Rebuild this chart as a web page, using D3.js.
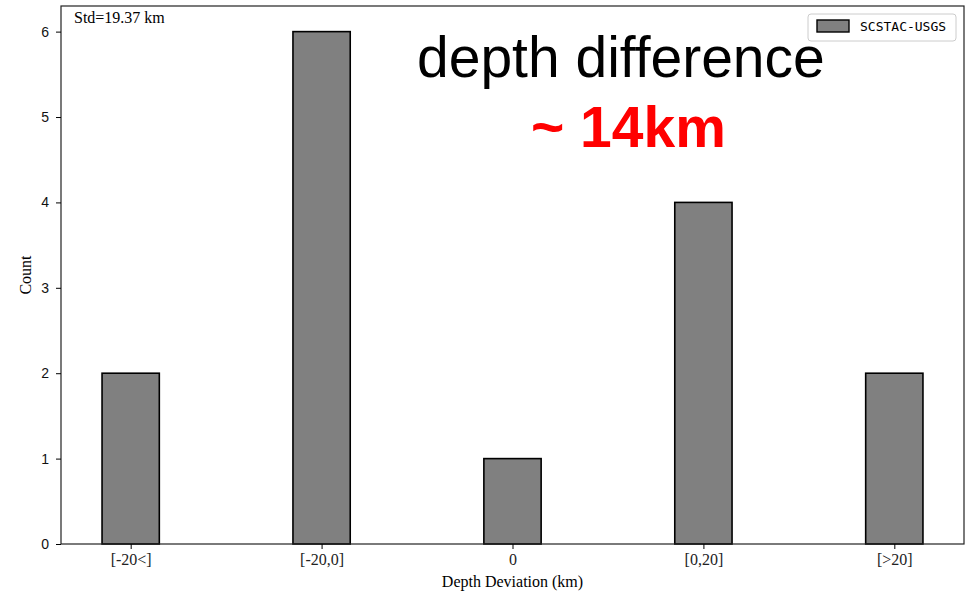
<!DOCTYPE html>
<meta charset="utf-8">
<style>
	body { margin: 0; background: #fff; }
	svg { display: block; }
	.serif { font-family: "Liberation Serif", "Times New Roman", serif; }
</style>
<body>
<svg id="chart"></svg>
</body>
<script src="https://d3js.org/d3.v7.min.js"></script>
<script>
	// data
	var categories = ["[-20<]", "[-20,0]", "0", "[0,20]", "[>20]"];
	var counts = [2, 6, 1, 4, 2];
	var yTicks = [0, 1, 2, 3, 4, 5, 6];
	var seriesName = "SCSTAC-USGS";
	var stdLabel = "Std=19.37 km";

	var W = 968, H = 592;
	// plot box (window.top is reserved, so no "top" here)
	var plotL = 61, plotR = 964, plotT = 6, plotB = 544;
	var barW = 0.3;

	var svg = d3.select("#chart").attr("width", W).attr("height", H);

	// matplotlib-like limits: bars from -0.15 to 4.15, 5% margin
	var x = d3.scaleLinear().domain([-0.365, 4.365]).range([plotL, plotR]);
	var y = d3.scaleLinear().domain([0, 6.3]).range([plotB, plotT]);

	svg.selectAll("rect.bar")
		.data(counts)
		.enter()
		.append("rect")
		.attr("class", "bar")
		.attr("x", function (d, i) { return x(i - barW / 2); })
		.attr("width", function () { return x(barW) - x(0); })
		.attr("y", function (d) { return y(d); })
		.attr("height", function (d) { return y(0) - y(d); })
		.style("fill", "#808080")
		.style("stroke", "#000")
		.style("stroke-width", 1.6);

	// frame
	svg.append("rect")
		.attr("x", plotL).attr("y", plotT)
		.attr("width", plotR - plotL).attr("height", plotB - plotT)
		.style("fill", "none").style("stroke", "#222").style("stroke-width", 1.2);

	var yAxis = svg.append("g")
		.attr("transform", "translate(" + plotL + ",0)")
		.call(d3.axisLeft(y).tickValues(yTicks).tickSize(5).tickPadding(7).tickFormat(d3.format("d")));
	yAxis.select(".domain").remove();
	yAxis.selectAll("text")
		.style("font-family", "'Liberation Sans', Arial, sans-serif")
		.style("font-size", "14px")
		.style("fill", "#111");

	var xAxis = svg.append("g")
		.attr("transform", "translate(0," + plotB + ")")
		.call(d3.axisBottom(x).tickValues(d3.range(categories.length)).tickSize(5).tickPadding(5)
			.tickFormat(function (d) { return categories[d]; }));
	xAxis.select(".domain").remove();
	xAxis.selectAll("text")
		.attr("class", "serif")
		.style("font-size", "16px")
		.style("fill", "#222");

	svg.append("text")
		.attr("class", "serif")
		.attr("x", (plotL + plotR) / 2)
		.attr("y", 587)
		.attr("text-anchor", "middle")
		.style("font-size", "16px")
		.text("Depth Deviation (km)");

	svg.append("text")
		.attr("class", "serif")
		.attr("transform", "translate(31," + (plotT + plotB) / 2 + ") rotate(-90)")
		.attr("text-anchor", "middle")
		.style("font-size", "16px")
		.text("Count");

	svg.append("text")
		.attr("class", "serif")
		.attr("x", 74)
		.attr("y", 23)
		.style("font-size", "16px")
		.text(stdLabel);

	// legend
	var lg = svg.append("g");
	lg.append("rect")
		.attr("x", 808).attr("y", 14).attr("width", 148).attr("height", 27).attr("rx", 3)
		.style("fill", "#fff").style("stroke", "#ccc").style("stroke-width", 1);
	lg.append("rect")
		.attr("x", 817).attr("y", 20).attr("width", 32).attr("height", 12)
		.style("fill", "#808080").style("stroke", "#000").style("stroke-width", 1.4);
	lg.append("text")
		.attr("x", 860).attr("y", 31)
		.style("font-family", "'DejaVu Sans Mono', monospace")
		.style("font-size", "13px")
		.text(seriesName);

	svg.append("text")
		.attr("x", 417).attr("y", 77)
		.style("font-family", "'Liberation Sans', Arial, sans-serif")
		.style("font-size", "57px")
		.style("fill", "#000")
		.text("depth difference");

	svg.append("text")
		.attr("x", 531).attr("y", 147)
		.style("font-family", "'Liberation Sans', Arial, sans-serif")
		.style("font-size", "57px")
		.style("font-weight", "bold")
		.style("fill", "#f00")
		.text("~ 14km");
</script>
